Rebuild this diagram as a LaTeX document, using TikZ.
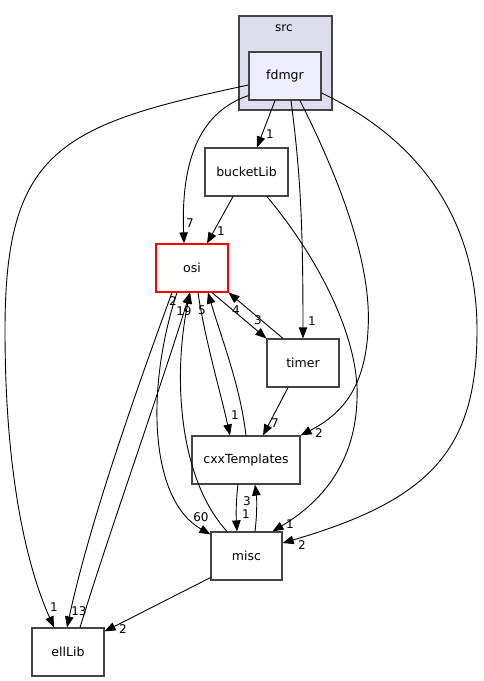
\documentclass[tikz,border=0pt]{standalone}
\usepackage{fontspec}
\setmainfont{DejaVu Sans}
\usetikzlibrary{positioning, calc, arrows.meta}
\definecolor{clusterfill}{HTML}{DDDDEE}
\definecolor{dirfill}{HTML}{EEEEFF}
\definecolor{boxline}{HTML}{444444}

\begin{document}
\begin{tikzpicture}[x=1pt,y=-1pt, block/.style={rectangle,draw=boxline,line width=1.2pt,minimum height=48pt,minimum width=72pt,inner sep=0pt,align=center,font=\fontsize{12.5}{14}\selectfont}, dep/.style={-{Triangle[length=11pt,width=8.5pt]}, black, line width=0.9pt}, num/.style={inner sep=0pt,font=\fontsize{12}{13}\selectfont} ]
\useasboundingbox (0,0) rectangle (483,681);
\node (src) [rectangle,draw=boxline,line width=1.2pt,fill=clusterfill,minimum width=93pt,minimum height=94pt] at (285.5,63) {};
\node (srclabel) [num, font=\fontsize{12}{14}\selectfont] at (284,28) {src};
\node (fdmgr) [block, fill=dirfill] at (285,76) {fdmgr};
\node (bucketLib) [block, fill=white, minimum width=83pt] at (246.5,172) {bucketLib};
\node (osi) [block, fill=white, draw=red] at (192,268) {osi};
\node (timer) [block, fill=white] at (303,363) {timer};
\node (cxxTemplates) [block, fill=white, minimum width=108pt] at (246,460) {cxxTemplates};
\node (misc) [block, fill=white, minimum width=71pt] at (246.5,556) {misc};
\node (ellLib) [block, fill=white] at (68,652) {ellLib};
  \begin{scope}
    \draw [dep] ($(fdmgr.south)+(-10,0)$) -- ($(bucketLib.north)+(10.5,0)$);
    \node (n1) [num] at (270,134) {1};
    \draw [dep] ($(fdmgr.south west)+(0,-5)$) .. controls (197,113) and (181,165) .. ($(osi.north)+(-8,0)$);
    \node (n2) [num] at (190,223) {7};
    \draw [dep] ($(bucketLib.south)+(-13.5,0)$) -- ($(osi.north)+(15,0)$);
    \node (n3) [num] at (221,231) {1};
    \draw [dep] ($(fdmgr.west)+(0,9)$) .. controls (60,125) and (5,150) .. (5,330) .. controls (5,500) and (35,585) .. ($(ellLib.north)+(-14,0)$);
    \node (n4) [num] at (54,607) {1};
    \draw [dep] ($(fdmgr.south)+(6,0)$) .. controls (300,170) and (303,220) .. (timer.north);
    \node (n5) [num] at (312,321) {1};
    \draw [dep] ($(fdmgr.south)+(15,0)$) .. controls (345,190) and (372,270) .. (368,330) .. controls (365,390) and (340,415) .. (cxxTemplates.north east);
    \node (n6) [num] at (319,433) {2};
    \draw [dep] ($(fdmgr.east)+(0,17)$) .. controls (420,140) and (477,220) .. (477,330) .. controls (477,450) and (430,500) .. ($(misc.east)+(0,-13)$);
    \node (n7) [num] at (302,545) {2};
    \draw [dep] ($(bucketLib.south)+(20.5,0)$) .. controls (320,260) and (360,340) .. (357,400) .. controls (355,460) and (325,500) .. ($(misc.north)+(26,0)$);
    \node (n8) [num] at (290,524) {1};

    \draw [dep] ($(osi.south)+(20,0)$) -- (timer.north west);
    \node (n9) [num] at (258,320) {3};
    \draw [dep] ($(timer.north)+(-20,0)$) -- (osi.south east);
    \node (n10) [num] at (236,310) {4};
    \draw [dep] ($(osi.south)+(6,0)$) .. controls (205,340) and (220,390) .. ($(cxxTemplates.north)+(-16,0)$);
    \node (n11) [num] at (235,415) {1};
    \draw [dep] (cxxTemplates.north) .. controls (240,385) and (222,340) .. ($(osi.south)+(16,0)$);
    \node (n12) [num] at (202,310) {5};
    \draw [dep] ($(osi.south)+(-15,0)$) .. controls (145,390) and (150,500) .. ($(misc.north west)+(0,3)$);
    \node (n13) [num] at (201,517) {60};
    \draw [dep] ($(misc.north)+(-19.5,0)$) .. controls (180,480) and (172,380) .. ($(osi.south)+(-2,0)$);
    \node (n14) [num] at (173,301) {2};
    \draw [dep] ($(osi.south)+(-20,0)$) .. controls (140,380) and (90,520) .. ($(ellLib.north)+(-1,0)$);
    \node (n15) [num] at (79,611) {13};
    \draw [dep] ($(ellLib.north)+(12,0)$) .. controls (110,530) and (160,390) .. ($(osi.south)+(-2,0)$);
    \node (n16) [num] at (184,311) {19};

    \draw [dep] ($(cxxTemplates.south)+(-8,0)$) .. controls (236,500) and (236,515) .. ($(misc.north)+(-9.5,0)$);
    \node (n17) [num] at (246,514) {1};
    \draw [dep] ($(misc.north)+(8.5,0)$) .. controls (257,515) and (257,500) .. ($(cxxTemplates.south)+(9,0)$);
    \node (n18) [num] at (247,501) {3};
    \draw [dep] ($(timer.south)+(-15,0)$) -- ($(cxxTemplates.north)+(17,0)$);
    \node (n19) [num] at (275,423) {7};
    \draw [dep] ($(misc.south west)+(0,-3)$) -- ($(ellLib.north east)+(0,4)$);
    \node (n20) [num] at (123,629) {2};
  \end{scope}
\end{tikzpicture}
\end{document}
